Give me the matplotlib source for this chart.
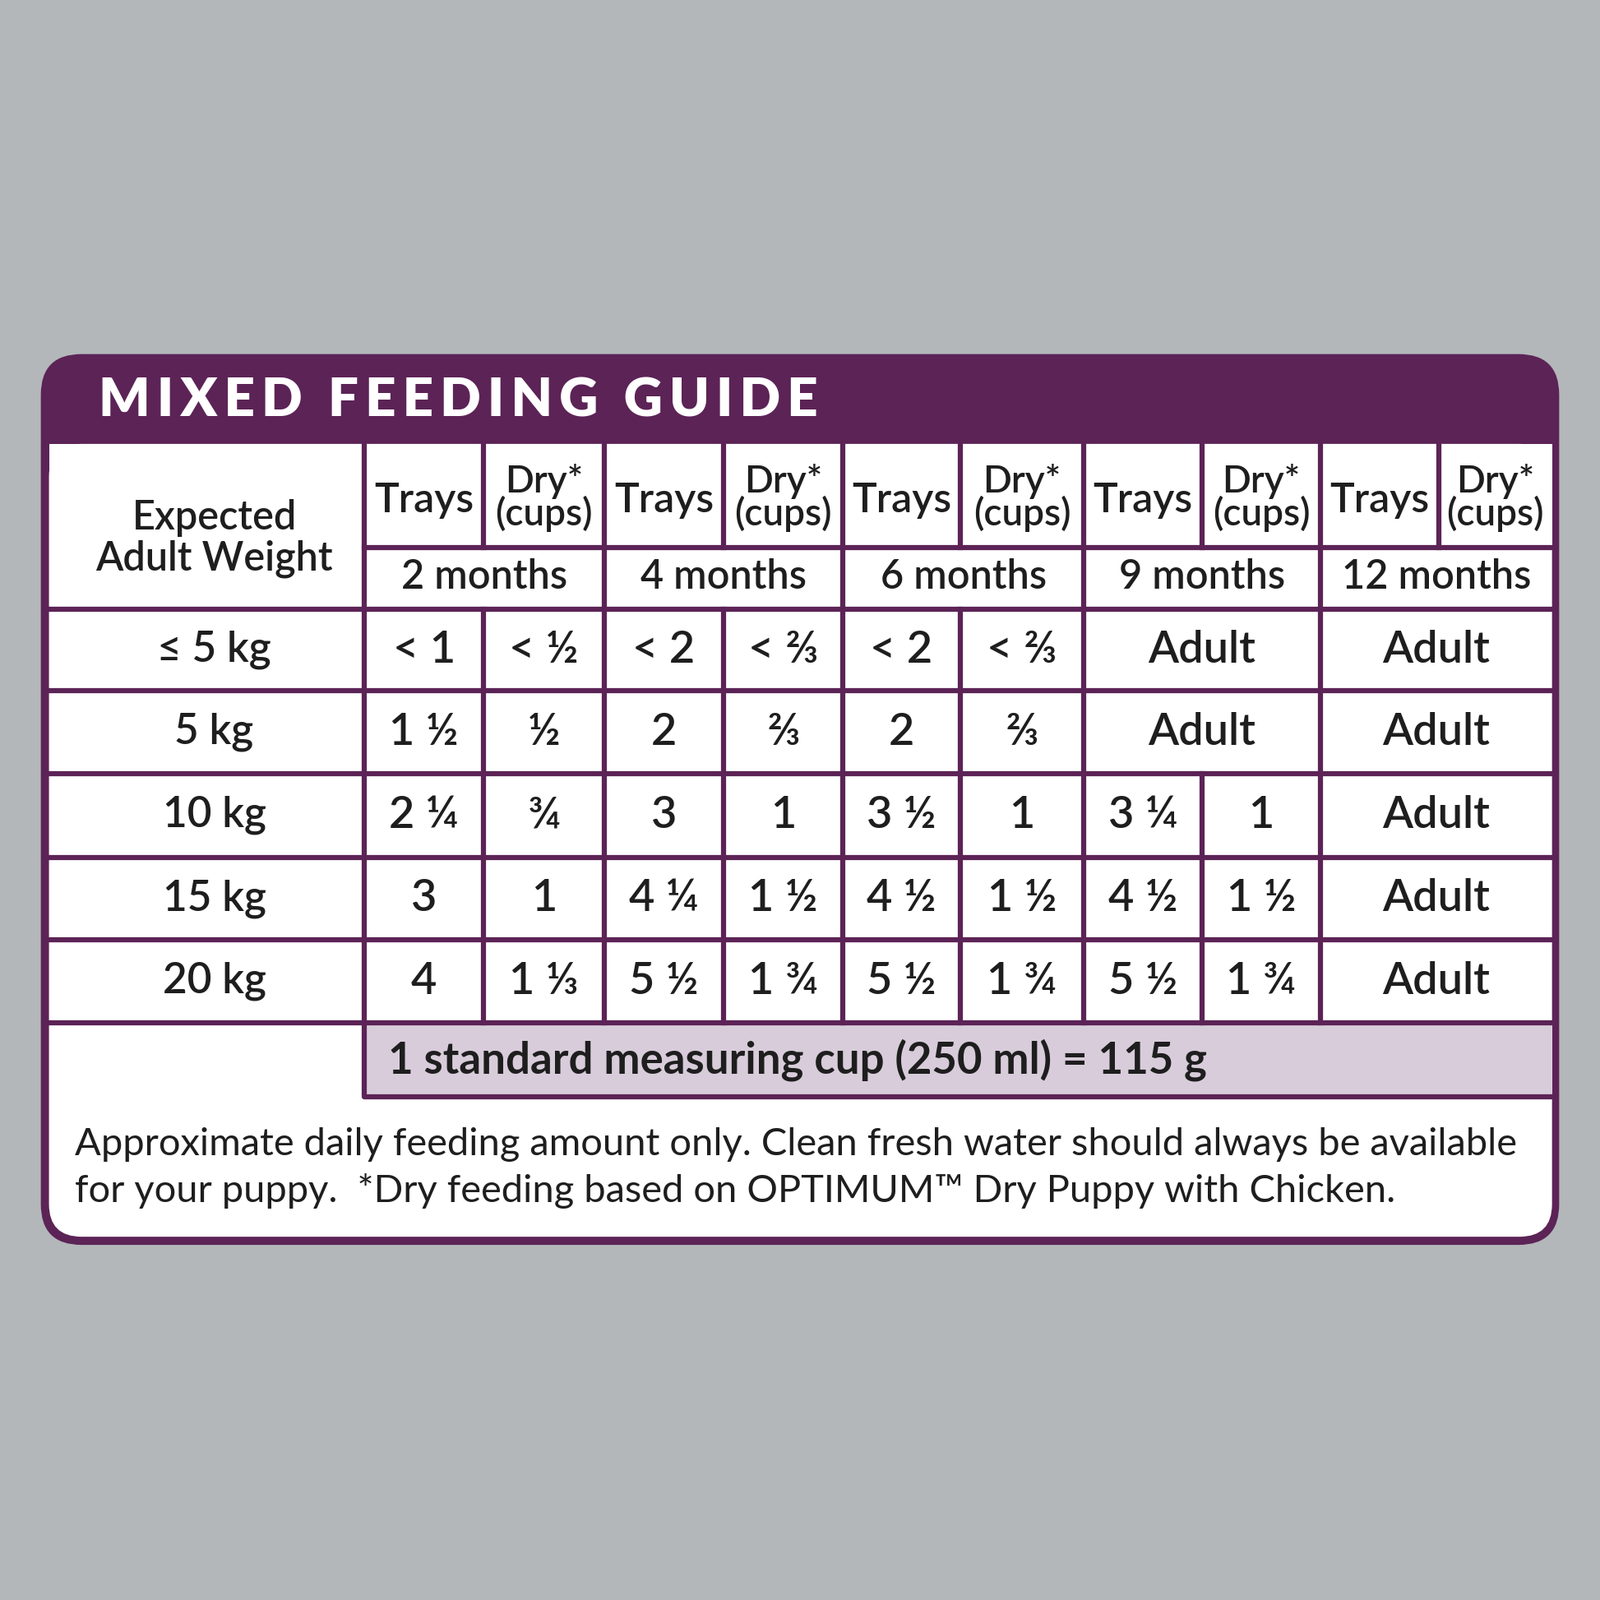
import matplotlib.pyplot as plt
from matplotlib.patches import FancyBboxPatch, Rectangle

purple = "#5c2356"
grey = "#b3b7ba"
lilac = "#d8ccda"
font = "Lato"

title = "MIXED FEEDING GUIDE"
ages = ["2 months", "4 months", "6 months", "9 months", "12 months"]
weights = ["\u2264 5 kg", "5 kg", "10 kg", "15 kg", "20 kg"]
# trays, dry per age; None means merged "Adult"
feeding = [
    ["< 1", "< \u00bd", "< 2", "< \u2154", "< 2", "< \u2154", None, None, None, None],
    ["1 \u00bd", "\u00bd", "2", "\u2154", "2", "\u2154", None, None, None, None],
    ["2 \u00bc", "\u00be", "3", "1", "3 \u00bd", "1", "3 \u00bc", "1", None, None],
    ["3", "1", "4 \u00bc", "1 \u00bd", "4 \u00bd", "1 \u00bd", "4 \u00bd", "1 \u00bd", None, None],
    ["4", "1 \u2153", "5 \u00bd", "1 \u00be", "5 \u00bd", "1 \u00be", "5 \u00bd", "1 \u00be", None, None],
]
cup_note = "1 standard measuring cup (250 ml) = 115 g"
footer = ["Approximate daily feeding amount only. Clean fresh water should always be available",
          "for your puppy.  *Dry feeding based on OPTIMUM\u2122 Dry Puppy with Chicken."]

xs = [48, 357, 474, 592, 709, 826, 941, 1062, 1178, 1294, 1410, 1521]
ys = [435, 537, 597, 677, 758, 840, 921, 1002, 1075]
ink = "#1e1e1e"

fig = plt.figure(figsize=(19.46, 19.46), dpi=100)
fig.patch.set_facecolor(grey)
ax = fig.add_axes([0, 0, 1, 1])
ax.set_xlim(0, 1568)
ax.set_ylim(1568, 0)
ax.axis("off")

ax.add_patch(FancyBboxPatch((40, 347), 1488, 873, boxstyle="round,pad=0,rounding_size=40",
                            fc=purple, ec="none"))
ax.add_patch(FancyBboxPatch((48, 435), 1473, 777, boxstyle="round,pad=0,rounding_size=32",
                            fc="white", ec="none"))
ax.add_patch(Rectangle((48, 435), 1473, 100, fc="white", ec="none"))
ax.text(97, 393, "\u2009".join(title), color="white",
        fontsize=47, fontweight="black", family=font, va="center", ha="left")

lw = 4.5
# header
ax.text(210, 528, "Expected\nAdult Weight", ha="center", va="center", fontsize=35,
        family=font, linespacing=1.1, color=ink, fontweight="semibold")
for i, age in enumerate(ages):
    x0, x1, x2 = xs[1 + 2 * i], xs[2 + 2 * i], xs[3 + 2 * i]
    ax.text((x0 + x1) / 2, 490, "Trays", ha="center", va="center", fontsize=36, family=font,
            color=ink, fontweight="semibold")
    ax.text((x1 + x2) / 2, 488, "Dry*\n(cups)", ha="center", va="center", fontsize=33,
            family=font, linespacing=0.9, color=ink, fontweight="semibold")
    ax.text((x0 + x2) / 2, 566, age, ha="center", va="center", fontsize=35, family=font,
            color=ink, fontweight="semibold")
    ax.plot([x1, x1], [ys[0], ys[1]], color=purple, lw=lw)

# data rows
for r, w in enumerate(weights):
    yt, yb = ys[2 + r], ys[3 + r]
    yc = (yt + yb) / 2
    ax.text(210, yc, w, ha="center", va="center", fontsize=37, family=font, color=ink,
            fontweight="semibold")
    row = feeding[r]
    for i in range(5):
        a, b = row[2 * i], row[2 * i + 1]
        x0, x1, x2 = xs[1 + 2 * i], xs[2 + 2 * i], xs[3 + 2 * i]
        if a is None:
            ax.text((x0 + x2) / 2, yc, "Adult", ha="center", va="center", fontsize=39,
                    family=font, color=ink, fontweight="semibold")
        else:
            ax.text((x0 + x1) / 2, yc, a, ha="center", va="center", fontsize=39, family=font,
                    color=ink, fontweight="semibold")
            ax.text((x1 + x2) / 2, yc, b, ha="center", va="center", fontsize=39, family=font,
                    color=ink, fontweight="semibold")
            ax.plot([x1, x1], [yt, yb], color=purple, lw=lw)

# grid lines
for y in ys[2:8]:
    ax.plot([xs[0], xs[-1]], [y, y], color=purple, lw=lw)
ax.plot([xs[1], xs[-1]], [ys[1], ys[1]], color=purple, lw=lw)
for x in xs[1:-1:2]:
    ax.plot([x, x], [ys[0], ys[7]], color=purple, lw=lw)

# cup note row
ax.add_patch(Rectangle((xs[1], ys[7]), xs[-1] - xs[1], ys[8] - ys[7], fc=lilac, ec="none"))
ax.plot([xs[1], xs[1], xs[-1]], [ys[7], ys[8], ys[8]], color=purple, lw=lw)
ax.text(380, (ys[7] + ys[8]) / 2, cup_note, ha="left", va="center", fontsize=38,
        family=font, color=ink, fontweight="bold")

for k, line in enumerate(footer):
    ax.text(73, 1122 + 45 * k, line, ha="left", va="center", fontsize=33.8, family=font,
            fontweight="normal", color=ink)

fig.savefig("out.png", dpi=100, facecolor=grey)
